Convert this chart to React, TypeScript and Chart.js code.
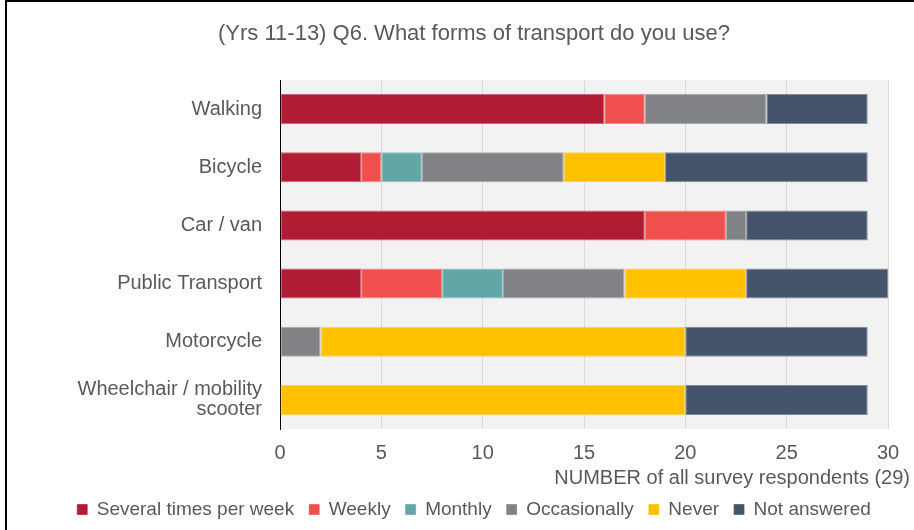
import React, { useEffect, useRef } from "react";
import { Chart, registerables } from "chart.js";

Chart.register(...registerables);

const categories: (string | string[])[] = [
  "Walking",
  "Bicycle",
  "Car / van",
  "Public Transport",
  "Motorcycle",
  ["Wheelchair / mobility", "scooter"],
];
const severalTimesPerWeek = [16, 4, 18, 4, 0, 0];
const weekly = [2, 1, 4, 4, 0, 0];
const monthly = [0, 2, 0, 3, 0, 0];
const occasionally = [6, 7, 1, 6, 2, 0];
const never = [0, 5, 0, 6, 18, 20];
const notAnswered = [5, 10, 6, 7, 9, 9];

const seriesNames = ["Several times per week", "Weekly", "Monthly", "Occasionally", "Never", "Not answered"];
const seriesColors = ["#b01c33", "#f0504d", "#63a6a7", "#818285", "#ffc000", "#44546a"];
const seriesBorders = [
  "rgba(176,28,51,0.65)",
  "rgba(240,80,77,0.65)",
  "rgba(99,166,167,0.65)",
  "rgba(129,130,133,0.65)",
  "rgba(255,192,0,0.65)",
  "rgba(68,84,106,0.65)",
];
const xTicks = [0, 5, 10, 15, 20, 25, 30];
const titleText = "(Yrs 11-13) Q6. What forms of transport do you use?";
const xAxisTitle = "NUMBER of all survey respondents (29)";

const FONT = "'Liberation Sans', Arial, sans-serif";
const TEXT = "#595959";
const PAD_LEFT = 60;

export default function App() {
  const ref = useRef<HTMLCanvasElement | null>(null);

  useEffect(() => {
    if (!ref.current) return;
    const values = [severalTimesPerWeek, weekly, monthly, occasionally, never, notAnswered];

    const bgPlugin = {
      id: "plotBg",
      beforeDraw(chart: any) {
        const { ctx, chartArea } = chart;
        ctx.save();
        ctx.fillStyle = "#f2f2f2";
        ctx.fillRect(chartArea.left, chartArea.top, chartArea.right - chartArea.left, chartArea.bottom - chartArea.top);
        ctx.restore();
      },
    };
    const xTitlePlugin = {
      id: "xTitle",
      afterDraw(chart: any) {
        const { ctx, chartArea } = chart;
        ctx.save();
        ctx.font = `20px ${FONT}`;
        ctx.fillStyle = TEXT;
        ctx.textAlign = "right";
        ctx.textBaseline = "middle";
        ctx.fillText(xAxisTitle, chart.width - 4, chartArea.bottom + 49);
        ctx.restore();
      },
    };

    const chart = new Chart(ref.current, {
      type: "bar",
      data: {
        labels: categories as any,
        datasets: seriesNames.map((name, i) => ({
          label: name,
          data: values[i],
          backgroundColor: seriesColors[i],
          borderColor: seriesBorders[i],
          borderWidth: 1,
          borderSkipped: false,
          barPercentage: 0.516,
          categoryPercentage: 1,
        })),
      },
      options: {
        indexAxis: "y",
        animation: false,
        responsive: false,
        maintainAspectRatio: false,
        layout: { padding: { left: PAD_LEFT, right: 26, top: 0, bottom: 1 } },
        plugins: {
          title: {
            display: true,
            text: titleText,
            color: TEXT,
            font: { family: FONT, size: 22, weight: "normal", lineHeight: 1.2 },
            padding: { top: 21, bottom: 32.6 },
          },
          legend: {
            position: "bottom",
            labels: {
              color: TEXT,
              font: { family: FONT, size: 19 },
              boxWidth: 10,
              boxHeight: 10,
              padding: 15,
            },
          },
          tooltip: { enabled: false },
        },
        scales: {
          x: {
            stacked: true,
            min: 0,
            max: 30,
            afterBuildTicks(scale: any) {
              scale.ticks = xTicks.map((v) => ({ value: v }));
            },
            afterFit(scale: any) {
              scale.height = 56;
            },
            grid: { color: "#d9d9d9", lineWidth: 1, drawTicks: false },
            border: { display: false },
            ticks: { color: TEXT, font: { family: FONT, size: 20 }, padding: 12 },
          },
          y: {
            stacked: true,
            afterFit(scale: any) {
              scale.width = 280 - PAD_LEFT;
            },
            grid: { display: true, drawOnChartArea: false, drawTicks: false },
            border: { display: true, color: "#000000", width: 1 },
            ticks: { color: TEXT, font: { family: FONT, size: 20, lineHeight: 1.0 }, padding: 18 },
          },
        },
      },
      plugins: [bgPlugin, xTitlePlugin],
    } as any);
    return () => chart.destroy();
  }, []);

  return (
    <div style={{ position: "absolute", left: 0, top: 0, width: 914, height: 530, background: "#fff" }}>
      <div
        style={{
          position: "absolute",
          left: 5,
          top: 0,
          width: 909,
          height: 530,
          borderLeft: "2px solid #000",
          borderTop: "2px solid #000",
          boxSizing: "border-box",
        }}
      />
      <canvas ref={ref} width={914} height={530} style={{ position: "absolute", left: 0, top: 0, width: 914, height: 530 }} />
    </div>
  );
}
